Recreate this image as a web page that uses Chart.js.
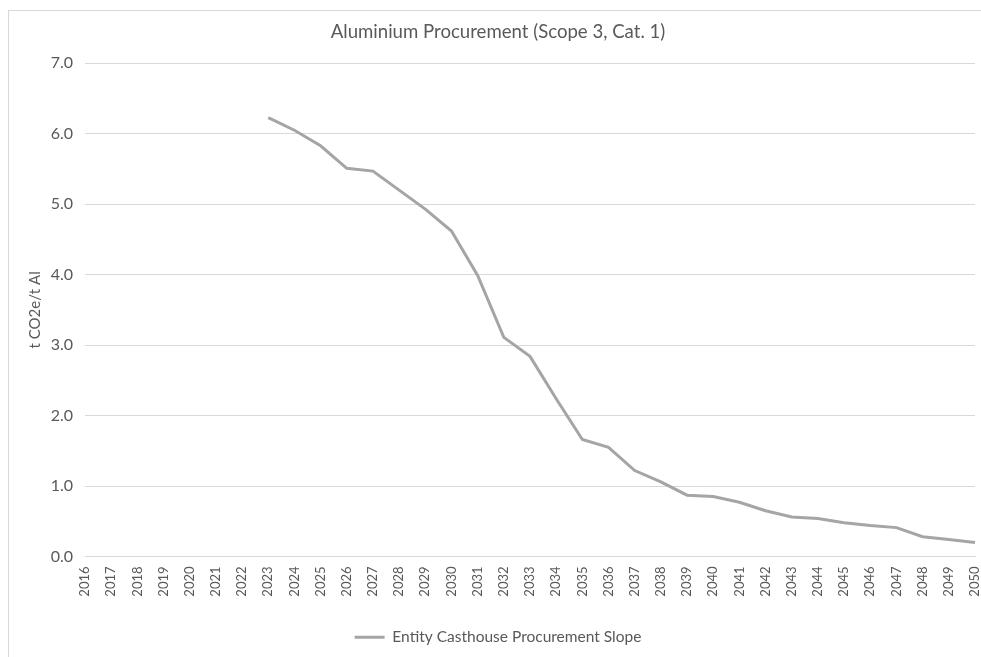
<!DOCTYPE html>
<html>
<head>
<meta charset="utf-8">
<title>Aluminium Procurement (Scope 3, Cat. 1)</title>
<script src="https://cdn.jsdelivr.net/npm/chart.js@4.4.1/dist/chart.umd.min.js"></script>
<style>
  html, body { margin: 0; padding: 0; background: #fff; overflow: hidden; }
  #frame {
    position: absolute; left: 8px; top: 10px;
    width: 978px; height: 646px;
    border: 1px solid #d9d9d9;
  }
  #chart { display: block; }
</style>
</head>
<body>
<div id="frame">
  <canvas id="chart" width="978" height="646"></canvas>
</div>
<script>
// years on the category axis
const years = ['2016', '2017', '2018', '2019', '2020', '2021', '2022', '2023', '2024', '2025',
  '2026', '2027', '2028', '2029', '2030', '2031', '2032', '2033', '2034', '2035',
  '2036', '2037', '2038', '2039', '2040', '2041', '2042', '2043', '2044', '2045',
  '2046', '2047', '2048', '2049', '2050'];

// t CO2e / t Al, no values before 2023
const slope = [null, null, null, null, null, null, null, 6.23, 6.05, 5.83,
  5.51, 5.47, 5.20, 4.93, 4.62, 3.99, 3.11, 2.84, 2.24, 1.66,
  1.55, 1.22, 1.06, 0.87, 0.85, 0.77, 0.65, 0.56, 0.54, 0.48,
  0.44, 0.41, 0.28, 0.24, 0.20];

const seriesName = 'Entity Casthouse Procurement Slope';
const chartTitle = 'Aluminium Procurement (Scope 3, Cat. 1)';
const yTitle = 't CO2e/t Al';

const textColor = '#595959';
const gridColor = '#d9d9d9';
const lineColor = '#a5a5a5';

Chart.defaults.font.family = 'Lato, "Open Sans", sans-serif';
Chart.defaults.color = textColor;

const ctx = document.getElementById('chart').getContext('2d');
const chart = new Chart(ctx, {
  type: 'line',
  data: {
    labels: years,
    datasets: [{
      label: seriesName,
      data: slope,
      borderColor: lineColor,
      backgroundColor: lineColor,
      borderWidth: 3,
      pointRadius: 0,
      pointHoverRadius: 0,
      tension: 0,
      spanGaps: false
    }]
  },
  options: {
    responsive: false,
    animation: false,
    layout: { padding: { left: 0, right: 0, top: 0, bottom: 2 } },
    plugins: {
      title: {
        display: true,
        text: chartTitle,
        color: textColor,
        font: { size: 18.6, weight: 'normal' },
        padding: { top: 10, bottom: 20 }
      },
      legend: {
        position: 'bottom',
        labels: {
          usePointStyle: true,
          pointStyle: 'line',
          pointStyleWidth: 30,
          color: textColor,
          font: { size: 15.5 },
          padding: 10
        }
      },
      tooltip: { enabled: false }
    },
    scales: {
      x: {
        offset: false,
        grid: { display: false, drawTicks: false },
        border: { display: true, color: gridColor, width: 1 },
        ticks: {
          autoSkip: false,
          maxRotation: 90,
          minRotation: 90,
          padding: 10,
          color: textColor,
          font: { size: 13 }
        },
        afterFit: (scale) => {
          scale.height = 63;
          // keep the plot edges where the reference has them
          scale.paddingLeft = 0;
          scale.paddingRight = 12;
        }
      },
      y: {
        min: 0,
        max: 7,
        grid: { color: gridColor, drawTicks: false },
        border: { display: false },
        ticks: {
          stepSize: 1,
          padding: 12,
          color: textColor,
          font: { size: 16 },
          callback: (v) => v.toFixed(1)
        },
        title: {
          display: true,
          text: yTitle,
          color: textColor,
          font: { size: 15 },
          padding: { top: 17, bottom: 0 }
        },
        afterFit: (scale) => { scale.width = 76; }
      }
    }
  }
});
</script>
</body>
</html>
